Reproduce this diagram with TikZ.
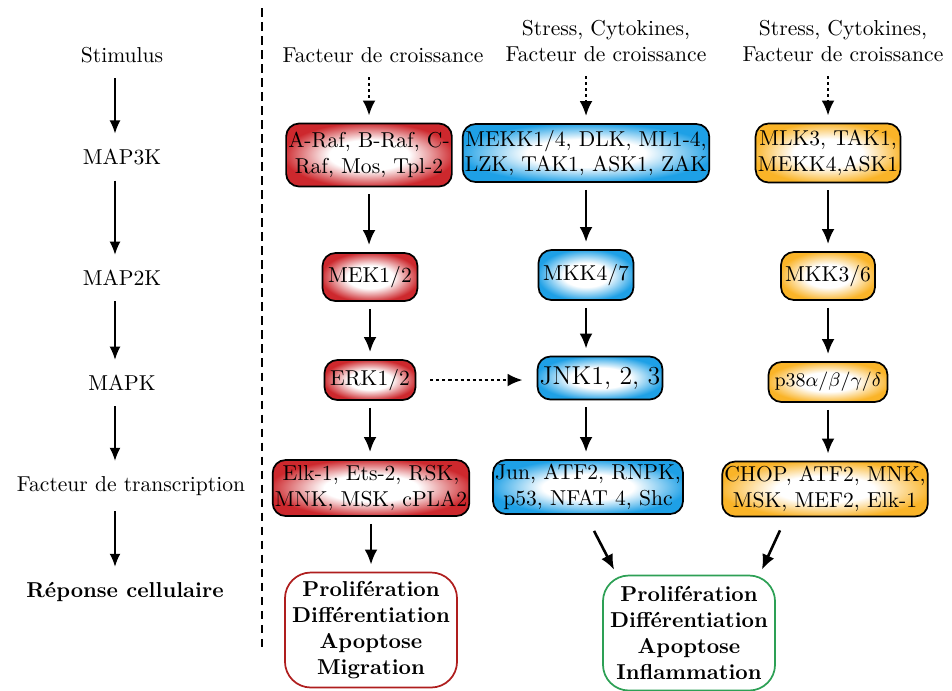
\documentclass[tikz,border=0pt]{standalone}
\usepackage{amsmath}
\usepackage{amssymb}
\usepackage{tikz}
\usepackage{xcolor}
\usetikzlibrary{arrows.meta,calc}

\newdimen\pxu
\pxu=0.0163cm

\definecolor{mapred}{RGB}{205,40,45}
\definecolor{mapblue}{RGB}{30,160,230}
\definecolor{maporange}{RGB}{250,180,40}
\definecolor{mapgreen}{RGB}{45,160,85}
\definecolor{mapdarkred}{RGB}{175,30,30}

% white centre, coloured rim
\pgfdeclareradialshading{redshade}{\pgfpoint{0bp}{0bp}}{color(0bp)=(white); color(12bp)=(white); color(26bp)=(mapred); color(50bp)=(mapred)}
\pgfdeclareradialshading{blueshade}{\pgfpoint{0bp}{0bp}}{color(0bp)=(white); color(12bp)=(white); color(26bp)=(mapblue); color(50bp)=(mapblue)}
\pgfdeclareradialshading{orangeshade}{\pgfpoint{0bp}{0bp}}{color(0bp)=(white); color(12bp)=(white); color(26bp)=(maporange); color(50bp)=(maporange)}

\tikzset{
	box/.style={draw, thick, rounded corners=6pt, align=center, inner sep=1pt},
	redbox/.style={box, shading=redshade},
	bluebox/.style={box, shading=blueshade},
	orangebox/.style={box, shading=orangeshade},
	endbox/.style={draw, thick, rounded corners=12pt, align=center, fill=white, font=\bfseries,
		minimum width=158\pxu, minimum height=115\pxu},
	arr/.style={-{Latex[length=7pt,width=6pt]}, line width=1.2pt, shorten <=7\pxu, shorten >=7\pxu},
	dotarr/.style={arr, dash pattern=on 1.4pt off 1.4pt},
	thinarr/.style={-{Latex[length=6pt,width=5pt]}, semithick, shorten <=8\pxu, shorten >=8\pxu},
}

\begin{document}
\begin{tikzpicture}[x=\pxu, y=-\pxu]
		\useasboundingbox (0,0) rectangle (952,690);
		
		% Left column: the levels of the cascade
		\node (stim) at (122,55) {Stimulus};
		\node (m3k) at (122,157) {MAP3K};
		\node (m2k) at (122,278) {MAP2K};
		\node (mk) at (122,383) {MAPK};
		\node (ft) at (131,486) {Facteur de transcription};
		\node[font=\bfseries] (rep) at (125,592) {R\'eponse cellulaire};
		\draw[thinarr] (stim.south -| 115,0) -- (m3k.north -| 115,0);
		\draw[thinarr] (m3k.south -| 115,0) -- (m2k.north -| 115,0);
		\draw[thinarr] (m2k.south -| 115,0) -- (mk.north -| 115,0);
		\draw[thinarr] (mk.south -| 115,0) -- (ft.north -| 115,0);
		\draw[thinarr] (ft.south -| 115,0) -- (rep.north -| 115,0);
		
		% Separator
		\draw[line width=1.3pt, dash pattern=on 4pt off 2.5pt] (262,8) -- (262,650);
		
		% Stimuli
		\node (stA) at (383,55) {Facteur de croissance};
		\node[align=center] (stB) at (606,41) {Stress, Cytokines,\\Facteur de croissance};
		\node[align=center] (stC) at (843,41) {Stress, Cytokines,\\Facteur de croissance};
		
		% ERK pathway
		\node[redbox, minimum width=155\pxu, minimum height=63\pxu] (raf) at (369,155) {A-Raf, B-Raf, C-\\Raf, Mos, Tpl-2};
		\node[redbox, minimum width=95\pxu, minimum height=48\pxu] (mek) at (370,277) {MEK1/2};
		\node[redbox, minimum width=91\pxu, minimum height=40\pxu] (erk) at (370,380) {ERK1/2};
		\node[redbox, minimum width=172\pxu, minimum height=56\pxu] (elk) at (371,488) {Elk-1, Ets-2, RSK,\\MNK, MSK, cPLA2};
		\node[endbox, draw=mapdarkred] (outA) at (371,630) {Prolif\'eration\\Diff\'erentiation\\Apoptose\\Migration};
		
		% JNK pathway
		\node[bluebox, minimum width=220\pxu, minimum height=58\pxu] (mekk) at (586,153) {MEKK1/4, DLK, ML1-4,\\LZK, TAK1, ASK1, ZAK};
		\node[bluebox, minimum width=95\pxu, minimum height=50\pxu] (mkkb) at (586,275) {MKK4/7};
		\node[bluebox, minimum width=120\pxu, minimum height=43\pxu, font=\large] (jnk) at (600,378) {JNK1, 2, 3};
		\node[bluebox, minimum width=170\pxu, minimum height=54\pxu] (jun) at (588,487) {Jun, ATF2, RNPK,\\p53, NFAT 4, Shc};
		
		% p38 pathway
		\node[orangebox, minimum width=130\pxu, minimum height=59\pxu] (mlk) at (828,153) {MLK3, TAK1,\\MEKK4,ASK1};
		\node[orangebox, minimum width=94\pxu, minimum height=48\pxu] (mkkc) at (828,276) {MKK3/6};
		\node[orangebox, minimum width=119\pxu, minimum height=40\pxu, font=\small] (p38) at (828,382) {p38$\alpha$/$\beta$/$\gamma$/$\delta$};
		\node[orangebox, minimum width=185\pxu, minimum height=55\pxu] (chop) at (825,489) {CHOP, ATF2, MNK,\\MSK, MEF2, Elk-1};
		\node[endbox, draw=mapgreen] (outB) at (689,633) {Prolif\'eration\\Diff\'erentiation\\Apoptose\\Inflammation};
		
		% Arrows
		\coordinate (jnkx) at (jnk.south -| mkkb.south);
		\draw[dotarr] (stA.south -| raf.north) -- (raf.north);
		\draw[dotarr] (stB.south -| mekk.north) -- (mekk.north);
		\draw[dotarr] (stC.south -| mlk.north) -- (mlk.north);
		\draw[arr] (raf.south) -- (raf.south |- mek.north);
		\draw[arr] (mek.south) -- (mek.south |- erk.north);
		\draw[arr] (erk.south) -- (erk.south |- elk.north);
		\draw[arr] (elk.south) -- (elk.south |- outA.north);
		\draw[arr] (mekk.south) -- (mekk.south |- mkkb.north);
		\draw[arr] (mkkb.south) -- (mkkb.south |- jnk.north);
		\draw[arr] (jnkx) -- (jnkx |- jun.north);
		\draw[arr] (mlk.south) -- (mlk.south |- mkkc.north);
		\draw[arr] (mkkc.south) -- (mkkc.south |- p38.north);
		\draw[arr] (p38.south) -- (p38.south |- chop.north);
		\draw[dotarr, shorten <=14\pxu, shorten >=14\pxu] (erk.east) -- (erk.east -| jnk.west);
		\draw[arr, shorten <=0pt, shorten >=0pt] ($(jun.south)+(6,16)$) -- ($(outB.north west)+(12,-5)$);
		\draw[arr, shorten <=0pt, shorten >=0pt] ($(chop.south)+(-45,13)$) -- ($(outB.north east)+(-14,-5)$);
	\end{tikzpicture}
\end{document}
